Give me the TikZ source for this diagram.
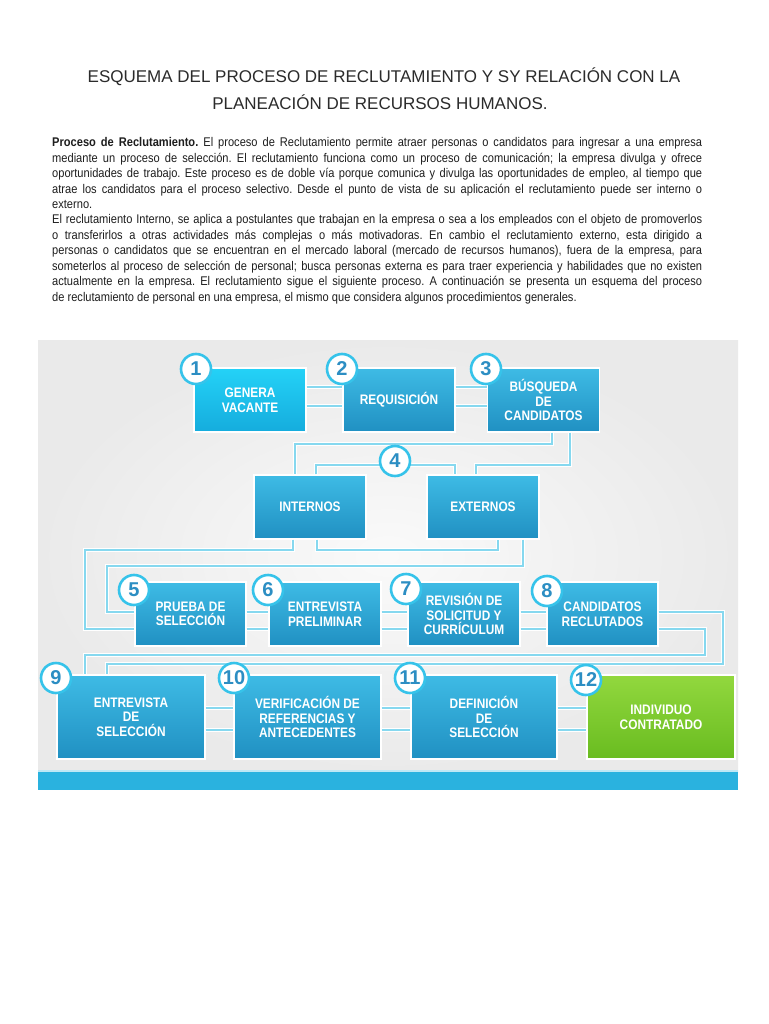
\documentclass[tikz,border=0pt]{standalone}
\usepackage{fontspec}
\setmainfont{Liberation Sans}
\newfontfamily\parafont[FakeStretch=0.88]{Liberation Sans}
\newfontfamily\bxfont[FakeStretch=0.86]{Liberation Sans}
\usetikzlibrary{calc}
\definecolor{titlec}{HTML}{2B2B2B}
\definecolor{parac}{HTML}{1E1E1E}
\definecolor{panelout}{HTML}{EAEAEA}
\definecolor{panelin}{HTML}{FAFAFA}
\definecolor{bandc}{HTML}{2AB2DF}
\definecolor{bxtop}{HTML}{3EBBE5}
\definecolor{bxbot}{HTML}{2090C2}
\definecolor{bxtopA}{HTML}{24D2F7}
\definecolor{bxbotA}{HTML}{15ACDD}
\definecolor{grtop}{HTML}{92D83E}
\definecolor{grbot}{HTML}{69BC20}
\definecolor{connc}{HTML}{86D8EF}
\definecolor{circc}{HTML}{36C3EA}
\definecolor{numc}{HTML}{2C8EC3}
\tikzset{
  titlest/.style={inner sep=0pt, text=titlec, font=\fontsize{17}{17}\selectfont},
  parast/.style={inner sep=0pt, text=parac, font=\parafont\fontsize{12.6}{12.6}\selectfont\frenchspacing},
  boxst/.style={rectangle, draw=white, line width=1.2pt, top color=bxtop, bottom color=bxbot,
    text=white, align=center, inner sep=0pt, minimum width=#1, minimum height=64pt,
    font=\bxfont\bfseries\fontsize{13.8}{14.6}\selectfont},
  boxst/.default=112pt,
  bigbox/.style={boxst=#1, minimum height=84pt},
  bigbox/.default=147pt,
  numst/.style={circle, draw=circc, line width=2.6pt, fill=white, minimum size=30pt, inner sep=0pt,
    text=numc, font=\bfseries\fontsize{20}{20}\selectfont},
  conn/.style={draw=connc, line width=1.5pt, preaction={draw=white, line width=3.6pt}}
}
\begin{document}
\begin{tikzpicture}[x=1pt,y=-1pt]
\useasboundingbox[fill=white] (0,0) rectangle (768,1024);

% title
\node[titlest, anchor=base] (t1) at (384,83) {ESQUEMA DEL PROCESO DE RECLUTAMIENTO Y SY RELACIÓN CON LA};
\node[titlest, anchor=base] (t2) at (380,110) {PLANEACIÓN DE RECURSOS HUMANOS.};

% paragraph
\node[parast, anchor=base west] (p1) at (52,147) {\makebox[650pt][s]{\textbf{Proceso de Reclutamiento.} El proceso de Reclutamiento permite atraer personas o candidatos para ingresar a una empresa}};
\node[parast, anchor=base west] (p2) at (52,162.4) {\makebox[650pt][s]{mediante un proceso de selección. El reclutamiento funciona como un proceso de comunicación; la empresa divulga y ofrece}};
\node[parast, anchor=base west] (p3) at (52,177.8) {\makebox[650pt][s]{oportunidades de trabajo. Este proceso es de doble vía porque comunica y divulga las oportunidades de empleo, al tiempo que}};
\node[parast, anchor=base west] (p4) at (52,193.2) {\makebox[650pt][s]{atrae los candidatos para el proceso selectivo. Desde el punto de vista de su aplicación el reclutamiento puede ser interno o}};
\node[parast, anchor=base west] (p5) at (52,208.6) {externo.};
\node[parast, anchor=base west] (p6) at (52,224) {\makebox[650pt][s]{El reclutamiento Interno, se aplica a postulantes que trabajan en la empresa o sea a los empleados con el objeto de promoverlos}};
\node[parast, anchor=base west] (p7) at (52,239.4) {\makebox[650pt][s]{o transferirlos a otras actividades más complejas o más motivadoras. En cambio el reclutamiento externo, esta dirigido a}};
\node[parast, anchor=base west] (p8) at (52,254.8) {\makebox[650pt][s]{personas o candidatos que se encuentran en el mercado laboral (mercado de recursos humanos), fuera de la empresa, para}};
\node[parast, anchor=base west] (p9) at (52,270.2) {\makebox[650pt][s]{someterlos al proceso de selección de personal; busca personas externa es para traer experiencia y habilidades que no existen}};
\node[parast, anchor=base west] (p10) at (52,285.6) {\makebox[650pt][s]{actualmente en la empresa. El reclutamiento sigue el siguiente proceso. A continuación se presenta un esquema del proceso}};
\node[parast, anchor=base west] (p11) at (52,301) {de reclutamiento de personal en una empresa, el mismo que considera algunos procedimientos generales.};

% panel
\shade[inner color=panelin, outer color=panelout] (38,340) rectangle (738,772);
\fill[white!70!bandc] (38,770) rectangle (738,772);
\fill[bandc] (38,772) rectangle (738,790);

% row 1
\node[boxst, top color=bxtopA, bottom color=bxbotA] (b1) at (250,400) {GENERA\\VACANTE};
\node[boxst] (b2) at (399,400) {REQUISICIÓN};
\node[boxst] (b3) at (543.5,400) {BÚSQUEDA\\DE\\CANDIDATOS};
\node[boxst] (bi) at (310,507) {INTERNOS};
\node[boxst] (be) at (483,507) {EXTERNOS};
% row 2
\node[boxst=111pt] (b5) at (190.5,614) {PRUEBA DE\\SELECCIÓN};
\node[boxst] (b6) at (325,614) {ENTREVISTA\\PRELIMINAR};
\node[boxst] (b7) at (464,614) {REVISIÓN DE\\SOLICITUD Y\\CURRÍCULUM};
\node[boxst=111pt] (b8) at (602.5,614) {CANDIDATOS\\RECLUTADOS};
% row 3
\node[bigbox=148pt] (b9) at (131,717) {ENTREVISTA\\DE\\SELECCIÓN};
\node[bigbox] (b10) at (307.5,717) {VERIFICACIÓN DE\\REFERENCIAS Y\\ANTECEDENTES};
\node[bigbox=146pt] (b11) at (484,717) {DEFINICIÓN\\DE\\SELECCIÓN};
\node[bigbox=148pt, top color=grtop, bottom color=grbot] (b12) at (661,717) {INDIVIDUO\\CONTRATADO};

% connectors
\draw[conn] (b1.east |- 0,387) -- (b2.west |- 0,387);
\draw[conn] (b1.east |- 0,406) -- (b2.west |- 0,406);
\draw[conn] (b2.east |- 0,387) -- (b3.west |- 0,387);
\draw[conn] (b2.east |- 0,406) -- (b3.west |- 0,406);

\draw[conn] (b3.south -| 552,0) |- (295,444) -- (bi.north -| 295,0);
\draw[conn] (b3.south -| 570,0) |- (476,465) -- (be.north -| 476,0);
\draw[conn] (bi.north -| 316,0) |- (455,465) -- (be.north -| 455,0);

\draw[conn] (bi.south -| 293,0) |- (85,550) |- (b5.west |- 0,629);
\draw[conn] (bi.south -| 317,0) |- (498,550) -- (be.south -| 498,0);
\draw[conn] (be.south -| 523,0) |- (107,566) |- (b5.west |- 0,612);

\foreach \a/\b in {b5/b6, b6/b7, b7/b8}{
  \draw[conn] (\a.east |- 0,612) -- (\b.west |- 0,612);
  \draw[conn] (\a.east |- 0,629) -- (\b.west |- 0,629);
}
\draw[conn] (b8.east |- 0,612) -| (723,664) -| (b9.north -| 107,0);
\draw[conn] (b8.east |- 0,629) -| (705,655) -| (b9.north -| 85,0);

\foreach \a/\b in {b9/b10, b10/b11, b11/b12}{
  \draw[conn] (\a.east |- 0,708) -- (\b.west |- 0,708);
  \draw[conn] (\a.east |- 0,730) -- (\b.west |- 0,730);
}

% number circles
\node[numst] (c1) at (196,369) {1};
\node[numst] (c2) at (342,369) {2};
\node[numst] (c3) at (486,369) {3};
\node[numst] (c4) at (395,461) {4};
\node[numst] (c5) at (134,590) {5};
\node[numst] (c6) at (268,590) {6};
\node[numst] (c7) at (406,589) {7};
\node[numst] (c8) at (547,591) {8};
\node[numst] (c9) at (56,678) {9};
\node[numst] (c10) at (234,678) {10};
\node[numst] (c11) at (410,678) {11};
\node[numst] (c12) at (586,680) {12};
\end{tikzpicture}
\end{document}
